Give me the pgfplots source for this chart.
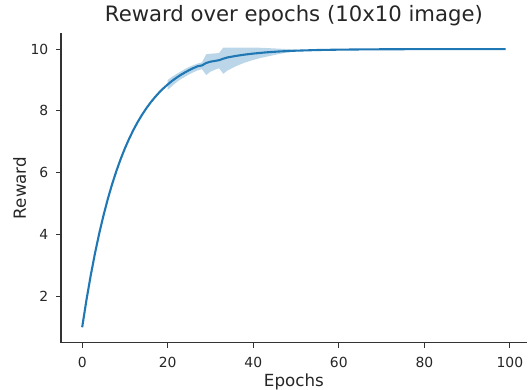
\documentclass[border=0pt]{standalone}
\usepackage{fontspec}
\setmainfont{DejaVu Sans}
\usepackage{pgfplots}
\pgfplotsset{compat=1.18}
\definecolor{tabblue}{HTML}{1F77B4}
\definecolor{txt}{HTML}{262626}
\begin{document}
\begin{tikzpicture}
\begin{axis}[
  scale only axis, width=465.8pt, height=309.4pt,
  xmin=-4.95, xmax=103.95, ymin=0.5, ymax=10.51,
  axis lines*=left,
  axis line style={-, black!80, line width=1.1pt},
  xtick={0,20,...,100}, ytick={2,4,...,10},
  tick align=outside, major tick length=4.9pt,
  tick style={black!80, line width=1.1pt},
  /pgf/number format/assume math mode=true,
  ticklabel style={font=\fontsize{13.9}{16}\selectfont, text=txt},
  xticklabel style={anchor=base, inner sep=0pt, yshift=-20pt},
  yticklabel style={anchor=east, inner sep=0pt, xshift=-7.7pt},
  xlabel={Epochs}, ylabel={Reward},
  label style={font=\fontsize{16.7}{20}\selectfont, text=txt},
  xlabel style={at={([yshift=-44pt]axis description cs:0.5,0)}, anchor=base},
  ylabel style={at={([xshift=-35pt]axis description cs:0,0.5)}, anchor=base},
  every axis title shift=0pt,
  title={Reward over epochs (10x10 image)},
  title style={font=\fontsize{21.2}{24}\selectfont, text=txt, at={([yshift=11.6pt]axis description cs:0.5,1)}, anchor=base, inner sep=0pt},
]
\addplot[fill=tabblue, fill opacity=0.3, draw=none, forget plot] coordinates {
 (20,9.00) (21,9.10) (22,9.19) (23,9.27) (24,9.35) (25,9.42) (26,9.48) (27,9.53) (28,9.57)
 (29,9.83) (30,9.85) (31,9.86) (32,9.87) (33,10.05) (36,10.05) (40,10.05) (42,10.04) (45,10.02) (48,10.00) (52,9.96)
 (52,9.95) (50,9.93) (48,9.89) (46,9.84) (44,9.78) (42,9.72) (40,9.65) (38,9.56) (36,9.45) (34,9.31) (33,9.20)
 (32,9.38) (31,9.33) (30,9.27) (29,9.16) (28,9.35) (27,9.31) (26,9.25) (25,9.18) (24,9.10) (23,9.02) (22,8.92) (21,8.80) (20,8.68)
} -- cycle;
\addplot[tabblue, line width=2.1pt] coordinates {
 (0,1.000) (1,1.882) (2,2.677) (3,3.395) (4,4.042) (5,4.626) (6,5.153) (7,5.628) (8,6.056) (9,6.442)
 (10,6.791) (11,7.105) (12,7.389) (13,7.645) (14,7.876) (15,8.084) (16,8.272) (17,8.441) (18,8.594) (19,8.731)
 (20,8.855) (21,8.968) (22,9.069) (23,9.160) (24,9.242) (25,9.317) (26,9.384) (27,9.444) (28,9.470) (29,9.550)
 (30,9.592) (31,9.615) (32,9.640) (33,9.690) (34,9.730) (36,9.780) (38,9.821) (40,9.854) (43,9.893) (46,9.922)
 (50,9.948) (55,9.969) (60,9.981) (65,9.988) (70,9.993) (80,9.998) (90,9.999) (99,10.000)
};
\end{axis}
\pgfresetboundingbox
\path ([shift={(-61pt,-46.3pt)}]current axis.south west) rectangle ([shift={(4.2pt,33.3pt)}]current axis.north east);
\end{tikzpicture}
\end{document}
